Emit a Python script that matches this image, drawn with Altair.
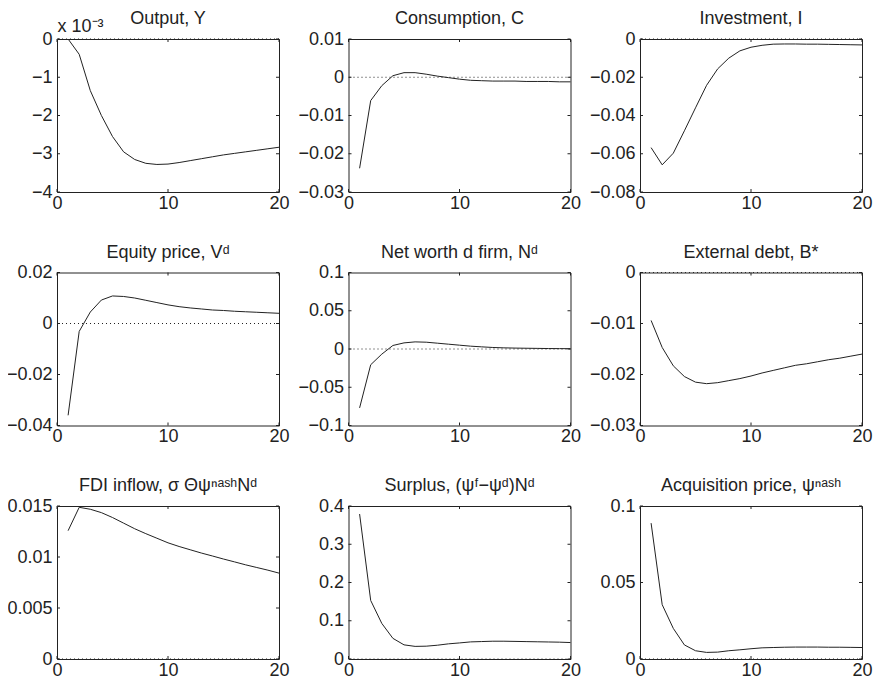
import altair as alt
import pandas as pd

# ---------------- data ----------------
periods = list(range(1, 21))
x_ticks = [0, 10, 20]

output_y = [0.0, -0.40, -1.35, -2.00, -2.55, -2.95, -3.15, -3.25, -3.28, -3.27,
            -3.23, -3.18, -3.13, -3.08, -3.03, -2.99, -2.95, -2.91, -2.87, -2.83]  # x 10^-3
consumption = [-0.0238, -0.0061, -0.0022, 0.0004, 0.0012, 0.0012, 0.0008, 0.0003, -0.0001, -0.0005,
               -0.0008, -0.0009, -0.0010, -0.0010, -0.0010, -0.0011, -0.0011, -0.0011, -0.0012, -0.0012]
investment = [-0.0568, -0.0658, -0.0597, -0.0480, -0.0360, -0.0242, -0.0156, -0.0100, -0.0062, -0.0043,
              -0.0033, -0.0027, -0.0026, -0.0026, -0.0027, -0.0027, -0.0028, -0.0029, -0.0030, -0.0031]
equity = [-0.0360, -0.0031, 0.0045, 0.0092, 0.0108, 0.0106, 0.0100, 0.0091, 0.0082, 0.0073,
          0.0066, 0.0061, 0.0057, 0.0053, 0.0051, 0.0048, 0.0046, 0.0044, 0.0042, 0.0040]
net_worth = [-0.0770, -0.0206, -0.0067, 0.0046, 0.0080, 0.0093, 0.0089, 0.0076, 0.0063, 0.0050,
             0.0037, 0.0028, 0.0020, 0.0015, 0.0012, 0.0010, 0.0008, 0.0006, 0.0005, 0.0004]
ext_debt = [-0.0094, -0.0147, -0.0183, -0.0204, -0.0215, -0.0218, -0.0216, -0.0212, -0.0208, -0.0203,
            -0.0197, -0.0192, -0.0187, -0.0182, -0.0179, -0.0175, -0.0171, -0.0168, -0.0164, -0.0160]
fdi = [0.01258, 0.01487, 0.01468, 0.01435, 0.01387, 0.01332, 0.01277, 0.01229, 0.01184, 0.01139,
       0.01103, 0.01071, 0.01039, 0.01010, 0.00980, 0.00952, 0.00923, 0.00897, 0.00871, 0.00842]
surplus = [0.379, 0.153, 0.093, 0.054, 0.037, 0.033, 0.0335, 0.036, 0.0396, 0.042,
           0.0447, 0.0456, 0.0465, 0.0465, 0.046, 0.0455, 0.045, 0.0445, 0.044, 0.043]
acq_price = [0.0888, 0.0355, 0.0200, 0.0092, 0.0054, 0.0043, 0.0045, 0.0054, 0.0060, 0.0067,
             0.0073, 0.0075, 0.0077, 0.0078, 0.0078, 0.0078, 0.0077, 0.0077, 0.0076, 0.0075]

titles = [
    "Output, Y",
    "Consumption, C",
    "Investment, I",
    "Equity price, V\u1d48",
    "Net worth d firm, N\u1d48",
    "External debt, B*",
    "FDI inflow, \u03c3 \u0398\u03c8\u207f\u1d43\u02e2\u02b0N\u1d48",
    "Surplus, (\u03c8\u1da0\u2212\u03c8\u1d48)N\u1d48",
    "Acquisition price, \u03c8\u207f\u1d43\u02e2\u02b0",
]
series = [output_y, consumption, investment, equity, net_worth, ext_debt, fdi, surplus, acq_price]
y_ticks = [
    [0, -1, -2, -3, -4],
    [0.01, 0, -0.01, -0.02, -0.03],
    [0, -0.02, -0.04, -0.06, -0.08],
    [0.02, 0, -0.02, -0.04],
    [0.1, 0.05, 0, -0.05, -0.1],
    [0, -0.01, -0.02, -0.03],
    [0.015, 0.01, 0.005, 0],
    [0.4, 0.3, 0.2, 0.1, 0],
    [0.1, 0.05, 0],
]
y_domains = [
    [-4, 0], [-0.03, 0.01], [-0.08, 0], [-0.04, 0.02], [-0.1, 0.1],
    [-0.03, 0], [0, 0.015], [0, 0.4], [0, 0.1],
]
exponent_label = "x 10\u207b\u00b3"

# ---------------- styling ----------------
FONT = "Liberation Sans"
INK = "#222222"
W, H = 222, 153
TICK = 3
LABEL_EXPR = "replace(format(datum.value, '~g'), '-', '\u2212')"


def panel(title, values, yt, ydom, ytitle=None):
    df = pd.DataFrame({"t": periods, "v": values})
    x_enc = alt.X(
        "t:Q",
        scale=alt.Scale(domain=[0, 20], nice=False, zero=False),
        axis=alt.Axis(values=x_ticks, labelExpr=LABEL_EXPR, title=None, labelFlush=False),
    )
    if ytitle:
        yaxis = alt.Axis(values=yt, labelExpr=LABEL_EXPR, title=ytitle, titleAngle=0,
                         titleAlign="left", titleBaseline="alphabetic",
                         titleX=0, titleY=-8, titleFont=FONT, titleFontSize=18,
                         titleFontWeight="normal", titleColor=INK)
        toff = -25
    else:
        yaxis = alt.Axis(values=yt, labelExpr=LABEL_EXPR, title=None)
        toff = -12
    y_enc = alt.Y("v:Q", scale=alt.Scale(domain=ydom, nice=False, zero=False), axis=yaxis)

    line = alt.Chart(df).mark_line(color=INK, strokeWidth=1).encode(x=x_enc, y=y_enc)
    zero = alt.Chart(pd.DataFrame({"v": [0]})).mark_rule(
        color=INK, strokeWidth=1, strokeDash=[1, 3]).encode(y=y_enc)
    ydf = pd.DataFrame({"v": yt})
    xdf = pd.DataFrame({"t": x_ticks})
    yl = alt.Chart(ydf).mark_rule(color=INK, strokeWidth=1).encode(
        y=y_enc, x=alt.value(0), x2=alt.value(TICK))
    yr = alt.Chart(ydf).mark_rule(color=INK, strokeWidth=1).encode(
        y=y_enc, x=alt.value(W - TICK), x2=alt.value(W))
    xb = alt.Chart(xdf).mark_rule(color=INK, strokeWidth=1).encode(
        x=x_enc, y=alt.value(H - TICK), y2=alt.value(H))
    xt = alt.Chart(xdf).mark_rule(color=INK, strokeWidth=1).encode(
        x=x_enc, y=alt.value(0), y2=alt.value(TICK))

    return alt.layer(zero, line, yl, yr, xb, xt).properties(
        width=W, height=H,
        title=alt.TitleParams(text=title, font=FONT, fontSize=18, fontWeight="normal",
                              color=INK, offset=toff, frame="group",
                              baseline="alphabetic", anchor="middle"),
    )


panels = []
for i in range(9):
    panels.append(panel(titles[i], series[i], y_ticks[i], y_domains[i],
                        exponent_label if i == 0 else None))

chart = alt.concat(
    *panels, columns=3, spacing={"row": 80.5, "column": 69.5}, bounds="flush"
).properties(
    autosize=alt.AutoSizeParams(type="none"),
    padding={"left": 49, "top": 31, "right": 817, "bottom": 639},
).configure_view(
    stroke=INK, strokeWidth=1
).configure_axis(
    labelFont=FONT, labelFontSize=18, labelColor=INK,
    grid=False, domain=False, ticks=False,
).configure_axisX(
    labelPadding=2
).configure_axisY(
    labelPadding=5
)

chart.save("out.html", embed_options={"renderer": "svg", "actions": False})
